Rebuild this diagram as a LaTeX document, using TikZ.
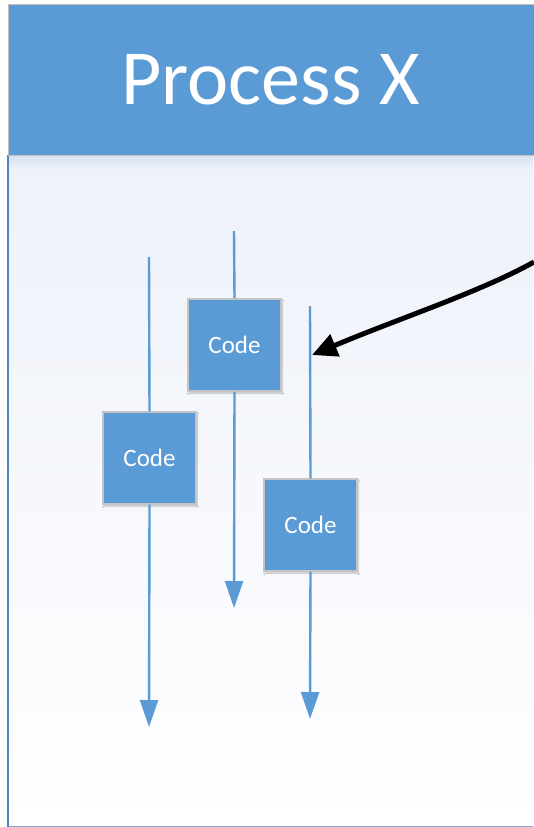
\documentclass[tikz,border=0pt]{standalone}
\usepackage{fontspec}
\setmainfont{Carlito}
\usetikzlibrary{arrows.meta,shadows.blur}
\definecolor{hdrblue}{HTML}{5B9BD5}
\definecolor{edgeblue}{HTML}{4F86C0}
\definecolor{bodytop}{HTML}{EDF1F9}
\definecolor{boxrim}{HTML}{C4C4C4}
\tikzset{
  codebox/.style={draw=boxrim, line width=1.3pt, fill=hdrblue, text=white,
    minimum width=93pt, minimum height=92pt, inner sep=0pt,
    font=\fontsize{25}{25}\selectfont,
    blur shadow={shadow xshift=1pt, shadow yshift=-2pt, shadow blur steps=6, shadow opacity=25}},
  flow/.style={draw=hdrblue, line width=2.4pt},
  flowend/.style={flow, -{Triangle[width=18pt,length=27pt]}},
  pointer/.style={draw=black, line width=5pt, -{Triangle[width=23pt,length=25pt]}}
}
\begin{document}
\begin{tikzpicture}[x=1pt,y=-1pt]
  \useasboundingbox (0,0) rectangle (533,827);
  % body panel with soft diagonal gradient, fading to white lower down
  \shade[shading angle=20, top color=bodytop, middle color=white, bottom color=white]
    (8,155) rectangle (533,826);
  \draw[edgeblue!70, line width=1pt] (8,826) -- (533,826);
  \draw[edgeblue, line width=2pt] (8,155) -- (8,827);
  % shadow under the header
  \shade[top color=edgeblue!35, bottom color=bodytop, opacity=0.5] (9,156) rectangle (533,168);
  % header
  \node[draw=black!25, line width=1pt, fill=hdrblue, minimum width=530pt, minimum height=151pt,
        anchor=north west, inner sep=0pt] (hdr) at (8,4) {};
  \node[text=white, font=\fontsize{78}{78}\selectfont, anchor=base] (title) at (270.5,104) {Process X};
  % code blocks
  \node[codebox] (c1) at (149.5,458) {Code};
  \node[codebox] (c2) at (234.5,345) {Code};
  \node[codebox] (c3) at (310.5,525) {Code};
  % flow lines
  \coordinate (t1) at (149,257);  \coordinate (e1) at (149,727);
  \coordinate (t2) at (234,231);  \coordinate (e2) at (234,608);
  \coordinate (t3) at (310,306);  \coordinate (e3) at (310,719);
  \draw[flow] (t1) -- (c1.north);
  \draw[flowend] (c1.south) -- (e1);
  \draw[flow] (t2) -- (c2.north);
  \draw[flowend] (c2.south) -- (e2);
  \draw[flow] (t3) -- (c3.north);
  \draw[flowend] (c3.south) -- (e3);
  % pointer
  \coordinate (src) at (534,262);
  \coordinate (hit) at (312,355);
  \draw[pointer] (src) .. controls (480,292) and (400,318) .. (hit);
\end{tikzpicture}
\end{document}
